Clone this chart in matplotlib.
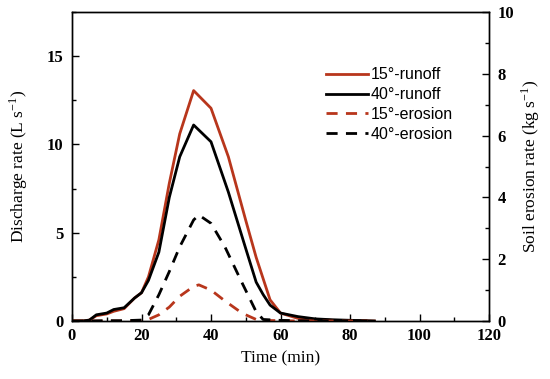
import matplotlib
matplotlib.use("Agg")
import matplotlib.pyplot as plt
from matplotlib.ticker import MultipleLocator

# runoff (left axis, L/s)
t_runoff = [0, 3, 5, 7, 10, 12, 15, 18, 20, 22, 25, 28, 31, 35, 40, 45, 50, 53, 55, 57, 60, 65, 70, 75, 80, 87]
runoff_15 = [0, 0, 0.05, 0.3, 0.4, 0.55, 0.7, 1.3, 1.6, 2.5, 4.6, 7.8, 10.6, 13.05, 12.05, 9.3, 5.7, 3.6, 2.4, 1.2, 0.45, 0.15, 0.08, 0.04, 0.02, 0]
runoff_40 = [0, 0, 0.05, 0.35, 0.45, 0.65, 0.75, 1.3, 1.6, 2.3, 3.9, 7.0, 9.3, 11.1, 10.15, 7.3, 4.1, 2.2, 1.5, 0.9, 0.45, 0.25, 0.12, 0.07, 0.04, 0]

# erosion (right axis, kg/s)
t_erosion = [0, 5, 10, 15, 20, 22, 25, 28, 31, 35, 36.5, 40, 44, 49, 53, 55, 60, 65, 70, 75, 80, 85]
erosion_15 = [0, 0, 0, 0, 0.01, 0.05, 0.2, 0.45, 0.8, 1.12, 1.17, 1.0, 0.65, 0.25, 0.05, 0.02, 0.01, 0, 0, 0, 0, 0]
erosion_40 = [0, 0, 0.01, 0.01, 0.03, 0.2, 0.85, 1.6, 2.4, 3.27, 3.43, 3.16, 2.4, 1.22, 0.3, 0.05, 0.02, 0.01, 0, 0, 0, 0]

labels = ["15°-runoff", "40°-runoff", "15°-erosion", "40°-erosion"]
red = "#b8361c"

plt.rcParams["mathtext.fontset"] = "stix"

fig = plt.figure(figsize=(5.5, 3.79), dpi=100)
ax = fig.add_axes([72 / 550, 1 - 321 / 379, 417 / 550, 309 / 379])
ax2 = ax.twinx()

l1, = ax.plot(t_runoff, runoff_15, color=red, lw=2)
l2, = ax.plot(t_runoff, runoff_40, color="black", lw=2)
l3, = ax2.plot(t_erosion, erosion_15, color=red, lw=2, dashes=(4, 3))
l4, = ax2.plot(t_erosion, erosion_40, color="black", lw=2, dashes=(4, 3))

ax.set_xlim(0, 120)
ax.set_ylim(0, 17.5)
ax2.set_ylim(0, 10)

ax.xaxis.set_major_locator(MultipleLocator(20))
ax.xaxis.set_minor_locator(MultipleLocator(10))
ax.yaxis.set_major_locator(MultipleLocator(5))
ax.yaxis.set_minor_locator(MultipleLocator(2.5))
ax2.yaxis.set_major_locator(MultipleLocator(2))
ax2.yaxis.set_minor_locator(MultipleLocator(1))

for a in (ax, ax2):
    a.tick_params(which="both", direction="in", width=1, pad=6)
    a.tick_params(which="major", length=5)
    a.tick_params(which="minor", length=3)
    for lab in a.get_xticklabels() + a.get_yticklabels():
        lab.set_fontfamily("Liberation Serif")
        lab.set_fontweight("bold")
        lab.set_fontsize(12)
    for s in a.spines.values():
        s.set_linewidth(1)
ax.tick_params(axis="x", pad=5)

ax.set_xlabel("Time (min)", family="Liberation Serif", fontsize=12.5, labelpad=5)
ax.set_ylabel("Discharge rate (L s$^{\\mathregular{-1}}$)", family="Liberation Serif", fontsize=12.5, labelpad=12)
ax2.set_ylabel("Soil erosion rate (kg s$^{\\mathregular{-1}}$)", family="Liberation Serif", fontsize=12.5, labelpad=4)

leg = ax.legend([l1, l2, l3, l4], labels, loc="upper left", bbox_to_anchor=(0.575, 0.867),
                frameon=False, handlelength=2.6, handletextpad=0.2, labelspacing=0.3,
                prop={"family": "Liberation Sans", "size": 11.5})

fig.savefig("out.png", dpi=100)
